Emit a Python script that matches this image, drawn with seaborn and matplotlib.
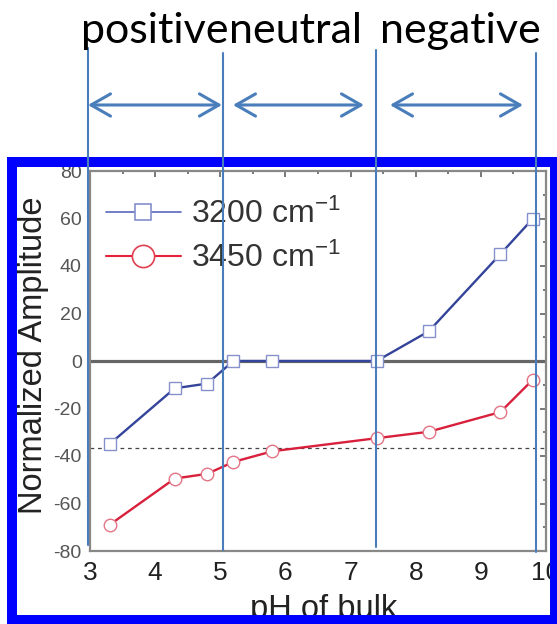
import matplotlib
matplotlib.use("Agg")
import matplotlib.pyplot as plt
import seaborn as sns
import numpy as np
import pandas as pd
from matplotlib.patches import Rectangle, FancyArrowPatch
from matplotlib.lines import Line2D
from matplotlib.ticker import MultipleLocator

# ---- data ----
ph = [3.3, 4.3, 4.8, 5.2, 5.8, 7.4, 8.2, 9.3, 9.8]
amp_3200 = [-35, -11.5, -9.5, 0, 0, 0, 12.5, 45, 60]
amp_3450 = [-69, -49.5, -47.5, -42.5, -38, -32.5, -29.8, -21.5, -7.8]
series_labels = ["3200 cm$^{-1}$", "3450 cm$^{-1}$"]
ref_level = -36.5
boundaries = [2.969, 5.042, 7.391, 9.847]
region_labels = ["positive", "neutral", "negative"]
region_centers = [4.0, 6.16, 8.68]
arrow_spans = [(2.969, 5.026), (5.195, 7.206), (7.605, 9.647)]
xticks = [3, 4, 5, 6, 7, 8, 9, 10]
yticks = [-80, -60, -40, -20, 0, 20, 40, 60, 80]

sns.set_style("white")
plt.rcParams['font.family'] = ['Liberation Sans', 'DejaVu Sans']
plt.rcParams['axes.unicode_minus'] = False
plt.rcParams['mathtext.fontset'] = 'custom'
plt.rcParams['mathtext.rm'] = 'Liberation Sans'
plt.rcParams['mathtext.it'] = 'Liberation Sans:italic'
plt.rcParams['mathtext.default'] = 'regular'

fig = plt.figure(figsize=(5.57, 6.24), dpi=100)
ax = fig.add_axes([90/557, 1-551/624, 456/557, 380/624])

df1 = pd.DataFrame({"ph": ph, "amp": amp_3200})
df2 = pd.DataFrame({"ph": ph, "amp": amp_3450})

blue_line = "#34449a"
blue_mk = "#8590cc"
red_line = "#d8203c"
red_mk = "#e27585"

ax.axhline(0, color="#666666", lw=2.3, zorder=1)
ax.axhline(ref_level, color="#444444", lw=0.9, ls=(0, (3, 3)), zorder=1)

sns.lineplot(data=df1, x="ph", y="amp", ax=ax, color=blue_line, lw=1.7,
             marker="s", markersize=8.5, markerfacecolor="white",
             markeredgecolor=blue_mk, markeredgewidth=1.0, zorder=3)
sns.lineplot(data=df2, x="ph", y="amp", ax=ax, color=red_line, lw=1.7,
             marker="o", markersize=9, markerfacecolor="white",
             markeredgecolor=red_mk, markeredgewidth=1.0, zorder=3)

ax.set_xlim(3, 10)
ax.set_ylim(-80, 80)
ax.set_xticks(xticks)
ax.set_yticks(yticks)
ax.xaxis.set_minor_locator(MultipleLocator(0.5))
ax.yaxis.set_minor_locator(MultipleLocator(10))
for s in ax.spines.values():
    s.set_color("#888888")
    s.set_linewidth(1.6)
ax.tick_params(axis="both", which="both", direction="out", color="#555555",
               width=1.1, top=False, right=False)
ax.tick_params(axis="both", which="major", length=4)
ax.tick_params(axis="both", which="minor", length=2.5)
ax.tick_params(axis="x", which="major", labelsize=19, labelcolor="#222222", pad=3)
ax.tick_params(axis="y", which="major", labelsize=14, labelcolor="#555555", pad=2)

secx = ax.secondary_xaxis("top")
secx.set_xticks(xticks)
secx.xaxis.set_minor_locator(MultipleLocator(0.5))
secx.tick_params(which="both", direction="in", labeltop=False, color="#555555", width=1.1)
secx.tick_params(which="major", length=4)
secx.tick_params(which="minor", length=2.5)
secx.spines["top"].set_visible(False)
secy = ax.secondary_yaxis("right")
secy.set_yticks(yticks)
secy.yaxis.set_minor_locator(MultipleLocator(10))
secy.tick_params(which="both", direction="in", labelright=False, color="#555555", width=1.1)
secy.tick_params(which="major", length=4)
secy.tick_params(which="minor", length=2.5)
secy.spines["right"].set_visible(False)

ax.set_xlabel("pH of bulk", fontsize=23.5, color="#222222")
ax.set_ylabel("Normalized Amplitude", fontsize=23.5, color="#222222")
ax.xaxis.set_label_coords(0.513, -0.114)
ax.yaxis.set_label_coords(-0.091, 0.516)

handles = [
    Line2D([], [], color="#5a68bc", lw=1.2, marker="s", markersize=12,
           markerfacecolor="white", markeredgecolor=blue_mk, markeredgewidth=1.2),
    Line2D([], [], color="#e8203a", lw=1.5, marker="o", markersize=16,
           markerfacecolor="white", markeredgecolor="#e04050", markeredgewidth=1.2),
]
leg = ax.legend(handles, series_labels, loc="upper left", bbox_to_anchor=(0.035, 0.927),
                frameon=False, fontsize=23, handlelength=2.35, handletextpad=0.3,
                labelspacing=0.4, borderpad=0, borderaxespad=0)
for t in leg.get_texts():
    t.set_color("#333333")

# blue frame
frame = Rectangle((12/557, 1-620/624), (555-12)/557, (620-162)/624,
                  transform=fig.transFigure, fill=False, edgecolor="#0000ff",
                  linewidth=7.2, clip_on=False, zorder=10)
ax.add_artist(frame)

# annotations
ann_col = "#4a7ebb"
xt = ax.get_xaxis_transform()
tops = [1.3237, 1.3105, 1.318, 1.3105]
bots = [0.0158, 0.0026, 0.0105, -0.0026]
for b, t0, b0 in zip(boundaries, tops, bots):
    ax.plot([b, b], [b0, t0], transform=xt, color=ann_col, lw=1.5,
            clip_on=False, zorder=11)
for (a0, a1) in arrow_spans:
    arr = FancyArrowPatch((a0, 1.1737), (a1, 1.1737), transform=xt,
                          arrowstyle="<->,head_length=14,head_width=8",
                          mutation_scale=1, color=ann_col, lw=2.2,
                          shrinkA=0, shrinkB=0, clip_on=False, zorder=11)
    ax.add_patch(arr)
for lab, c in zip(region_labels, region_centers):
    ax.text(c, 1.3368, lab, transform=xt, ha="center", va="baseline",
            fontsize=31, color="black", family=["Lato", "DejaVu Sans"],
            clip_on=False, zorder=11)

fig.savefig("out.png", dpi=100)
